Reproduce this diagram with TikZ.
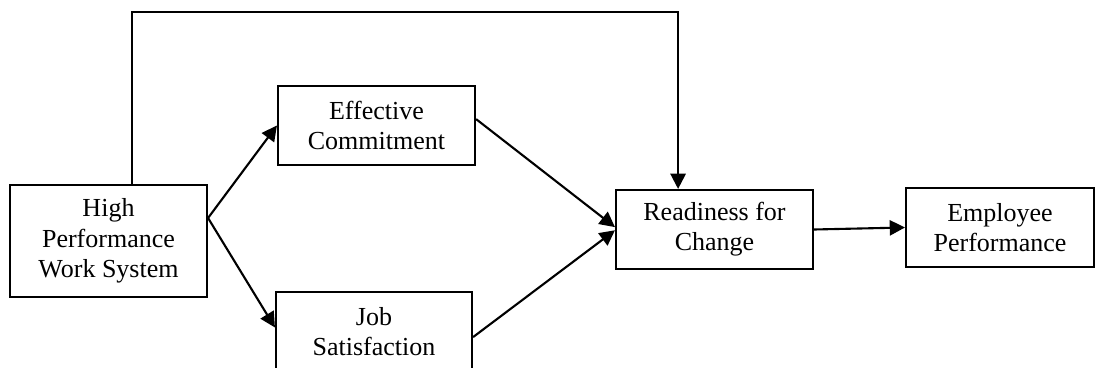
\documentclass[tikz,border=0pt]{standalone}
\usepackage{fontspec}
\setmainfont{Liberation Serif}
\usetikzlibrary{arrows.meta,positioning,calc}

\begin{document}
\begin{tikzpicture}[
    box/.style={rectangle, draw=black, line width=1.5pt, fill=white,
                minimum width=4.925cm, minimum height=1.975cm, inner sep=2pt,
                align=center, font=\fontsize{18.5}{21.5}\selectfont},
    arr/.style={-{Triangle[length=3.8mm, width=3.8mm]}, line width=1.5pt},
]
\useasboundingbox (0,0) rectangle (27.425,9.175);
\clip (0,0) rectangle (27.425,9.175);

% --- Nodes ---
\node[box, minimum height=2.8cm] (hpws) at (2.7125,3.15) {High\\Performance\\Work System};
\node[box] (ec) at (9.4125,6.0375) {Effective\\Commitment};
\node[box, minimum width=4.9cm] (js) at (9.35,0.8875) {Job\\Satisfaction};
\node[box] (rfc) at (17.8625,3.4375) {Readiness for\\Change};
\node[box, minimum width=4.7cm] (ep) at (25.0,3.4875) {Employee\\Performance};

% --- Paths ---
\coordinate (fork) at ($(hpws.east)+(0,0.575)$);
\draw[arr] (fork) -- (ec.west);
\draw[arr] (fork) -- ($(js.west)+(0,0.1)$);
\draw[arr] ($(ec.east)+(0,0.16)$) -- ($(rfc.west)+(0,0.06)$);
\draw[arr] ($(js.east)+(0,-0.14)$) -- ($(rfc.west)+(0,-0.02)$);
\draw[arr] (rfc.east) -- (ep.west);
% Direct effect across the top
\coordinate (topline) at (10,8.875);
\draw[arr] ([xshift=5.9mm]hpws.north) |- (topline) -| ([xshift=-9.1mm]rfc.north);

\end{tikzpicture}
\end{document}
